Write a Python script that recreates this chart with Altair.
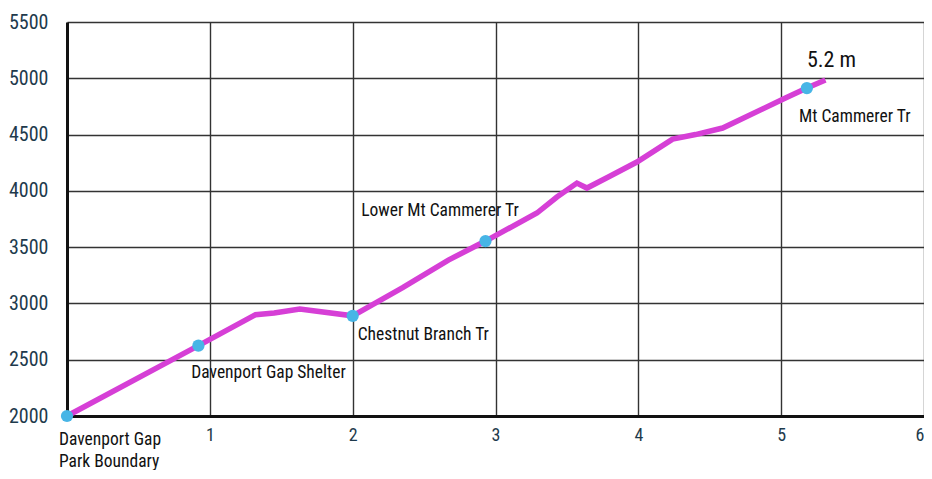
import altair as alt
import pandas as pd

# Elevation profile (miles, feet)
miles = [0.0, 0.92, 1.32, 1.45, 1.63, 2.0, 2.35, 2.67, 2.93, 3.29, 3.43, 3.57, 3.64, 3.8, 3.99, 4.24, 4.4, 4.59, 5.03, 5.18, 5.31]
elev = [2000, 2625, 2900, 2915, 2950, 2890, 3140, 3385, 3554, 3803, 3945, 4069, 4025, 4130, 4256, 4460, 4500, 4558, 4824, 4913, 4984]

# Waypoint markers
wp_miles = [0.0, 0.92, 2.0, 2.93, 5.18]
wp_elev = [2000, 2625, 2890, 3554, 4913]

# Annotation labels (anchor positions in data units)
lab_text = ["Davenport Gap Shelter", "Chestnut Branch Tr", "Lower Mt Cammerer Tr", "Mt Cammerer Tr",
            "Davenport Gap", "Park Boundary"]
lab_x = [0.87, 2.035, 2.06, 5.125, -0.056, -0.056]
lab_y = [2382, 2719, 3821, 4655, 1787, 1591]

dist_text = ["5.2 m"]
dist_x = [5.18]
dist_y = [5162]

x_ticks = [1, 2, 3, 4, 5, 6]
y_ticks = [2000, 2500, 3000, 3500, 4000, 4500, 5000, 5500]

FONT = "Roboto Condensed, DejaVu Sans Condensed, Liberation Sans, sans-serif"
LABEL_COLOR = "#1e3a4c"

line_df = pd.DataFrame({"mile": miles, "elev": elev})
wp_df = pd.DataFrame({"mile": wp_miles, "elev": wp_elev})
lab_df = pd.DataFrame({"text": lab_text, "mile": lab_x, "elev": lab_y})
dist_df = pd.DataFrame({"text": dist_text, "mile": dist_x, "elev": dist_y})

xs = alt.Scale(domain=[0, 6], nice=False, zero=False)
ys = alt.Scale(domain=[2000, 5500], nice=False, zero=False)

x_enc = alt.X("mile:Q", scale=xs, axis=alt.Axis(
    values=x_ticks, format="d", title=None, grid=True, gridColor="#333333", gridWidth=1.4,
    domainColor="#111111", domainWidth=3, ticks=False, labelFontSize=18, labelFont=FONT,
    labelColor=LABEL_COLOR, labelPadding=10, labelFlush=True))
y_enc = alt.Y("elev:Q", scale=ys, axis=alt.Axis(
    values=y_ticks, format="d", title=None, grid=True, gridColor="#333333", gridWidth=1.4,
    domainColor="#111111", domainWidth=3, ticks=False, labelFontSize=20, labelFont=FONT,
    labelColor=LABEL_COLOR, labelPadding=19))

line = alt.Chart(line_df).mark_line(color="#d63fd6", strokeWidth=5.5, clip=False).encode(
    x=x_enc, y=y_enc, order="mile:Q")

pts = alt.Chart(wp_df).mark_circle(color="#47b5e6", size=150, opacity=1, clip=False).encode(
    x=alt.X("mile:Q", scale=xs), y=alt.Y("elev:Q", scale=ys))

labels = alt.Chart(lab_df).mark_text(align="left", baseline="middle", font=FONT, fontSize=17.5,
                                     color="#111111", clip=False).encode(
    x=alt.X("mile:Q", scale=xs), y=alt.Y("elev:Q", scale=ys), text="text:N")

dist = alt.Chart(dist_df).mark_text(align="left", baseline="middle", font=FONT, fontSize=22,
                                    color="#111111", clip=False).encode(
    x=alt.X("mile:Q", scale=xs), y=alt.Y("elev:Q", scale=ys), text="text:N")

chart = alt.layer(line, pts, labels, dist).properties(
    width=857, height=394,
    autosize=alt.AutoSizeParams(type="none"),
    padding={"left": 59, "top": 14, "right": 0, "bottom": 54},
).configure_view(stroke="#111111", strokeWidth=3).configure(background="white")

chart.save("out.html", embed_options={"renderer": "svg", "actions": False})
